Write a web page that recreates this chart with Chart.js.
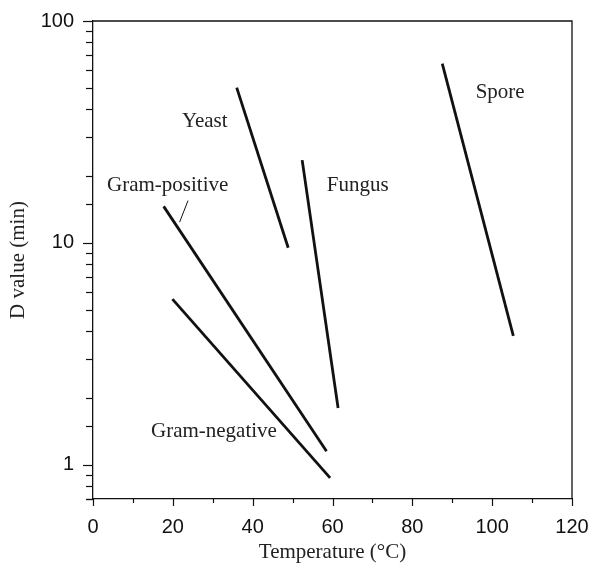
<!DOCTYPE html>
<html>
<head>
<meta charset="utf-8">
<script src="https://cdn.jsdelivr.net/npm/chart.js@4/dist/chart.umd.min.js"></script>
<style>
  html, body { margin: 0; padding: 0; background: #fff; }
  #wrap { width: 590px; height: 563px; position: relative; }
</style>
</head>
<body>
<div id="wrap"><canvas id="c"></canvas></div>
<script>
// ---- data ----
const seriesNames = ["Yeast", "Fungus", "Gram-positive", "Gram-negative", "Spore"];
const yeastT   = [36.0, 48.9];
const yeastD   = [50.1, 9.5];
const fungusT  = [52.4, 61.4];
const fungusD  = [23.6, 1.80];
const gposT    = [17.7, 58.5];
const gposD    = [14.6, 1.15];
const gnegT    = [19.9, 59.4];
const gnegD    = [5.57, 0.871];
const sporeT   = [87.5, 105.3];
const sporeD   = [64.3, 3.81];
// leader line from the "Gram-positive" label to its line
const leaderT  = [23.8, 21.7];
const leaderD  = [15.5, 12.4];
// label anchors, in data units (temperature, D value)
const labelText = ["Yeast", "Gram-positive", "Fungus", "Spore", "Gram-negative"];
const labelT    = [28.0, 18.7, 66.3, 102.0, 30.3];
const labelD    = [35.4, 18.2, 18.2, 47.7, 1.41];
// axis ticks
const yMajorTicks = [1, 10, 100];
const xMin = 0, xMax = 120, xStep = 10, xLabelStep = 20;
const yMin = 0.7, yMax = 100;

const pts = (xs, ys) => xs.map((x, i) => ({ x: x, y: ys[i] }));
const lineDs = (label, xs, ys, w) => ({
  label: label, data: pts(xs, ys), showLine: true, borderColor: '#111',
  backgroundColor: '#111', borderWidth: w, pointRadius: 0, fill: false,
  borderCapStyle: 'butt'
});

const SERIF = '"Liberation Serif", "Times New Roman", serif';
const SANS = '"Liberation Sans", Arial, sans-serif';

const decorPlugin = {
  id: 'decor',
  afterDraw(chart) {
    const ctx = chart.ctx;
    const a = chart.chartArea;
    const xs = chart.scales.x, ys = chart.scales.y;
    ctx.save();
    ctx.strokeStyle = '#111';
    ctx.lineWidth = 1.3;
    // top and right frame
    ctx.beginPath();
    ctx.moveTo(a.left, a.top); ctx.lineTo(a.right, a.top); ctx.lineTo(a.right, a.bottom);
    ctx.stroke();
    // y tick marks
    ctx.lineWidth = 1.2;
    ys.ticks.forEach(t => {
      const p = Math.round(ys.getPixelForValue(t.value)) + 0.5;
      const len = yMajorTicks.includes(t.value) ? 10 : 7;
      ctx.beginPath(); ctx.moveTo(a.left - len, p); ctx.lineTo(a.left, p); ctx.stroke();
    });
    // x tick marks
    xs.ticks.forEach(t => {
      const p = Math.round(xs.getPixelForValue(t.value)) + 0.5;
      const len = (t.value % xLabelStep === 0) ? 7 : 4;
      ctx.beginPath(); ctx.moveTo(p, a.bottom); ctx.lineTo(p, a.bottom + len); ctx.stroke();
    });
    // series labels
    ctx.fillStyle = '#222';
    ctx.font = '21px ' + SERIF;
    ctx.textAlign = 'center';
    ctx.textBaseline = 'middle';
    labelText.forEach((s, i) => {
      ctx.fillText(s, xs.getPixelForValue(labelT[i]), ys.getPixelForValue(labelD[i]));
    });
    ctx.restore();
  }
};

new Chart(document.getElementById('c'), {
  type: 'scatter',
  data: {
    datasets: [
      lineDs(seriesNames[0], yeastT, yeastD, 2.8),
      lineDs(seriesNames[1], fungusT, fungusD, 2.8),
      lineDs(seriesNames[2], gposT, gposD, 2.8),
      lineDs(seriesNames[3], gnegT, gnegD, 2.8),
      lineDs(seriesNames[4], sporeT, sporeD, 2.8),
      lineDs('leader', leaderT, leaderD, 1)
    ]
  },
  options: {
    responsive: true,
    maintainAspectRatio: false,
    animation: false,
    layout: { padding: { top: 21, right: 18, left: 0, bottom: 0 } },
    plugins: { legend: { display: false }, tooltip: { enabled: false } },
    scales: {
      x: {
        type: 'linear', min: xMin, max: xMax,
        grid: { display: false },
        border: { display: true, color: '#111', width: 1.3 },
        ticks: {
          stepSize: xStep, autoSkip: false, maxRotation: 0, padding: 8,
          color: '#111', font: { family: SANS, size: 20 },
          callback: v => (v % xLabelStep === 0 ? String(v) : '')
        },
        title: {
          display: true, text: 'Temperature (°C)', color: '#222',
          font: { family: SERIF, size: 21 }, padding: { top: 0, bottom: -2 }
        },
        afterFit: s => { s.height = 64; s.paddingLeft = 0; s.paddingRight = 0; }
      },
      y: {
        type: 'logarithmic', min: yMin, max: yMax,
        grid: { display: false },
        border: { display: true, color: '#111', width: 1.3 },
        ticks: {
          autoSkip: false, padding: 11, color: '#111',
          font: { family: SANS, size: 20 },
          callback: v => (yMajorTicks.includes(v) ? String(v) : '')
        },
        title: {
          display: true, text: 'D value (min)', color: '#222',
          font: { family: SERIF, size: 21 }, padding: { top: 6, bottom: 0 }
        },
        afterFit: s => { s.width = 93; s.paddingTop = 0; s.paddingBottom = 0; }
      }
    }
  },
  plugins: [decorPlugin]
});
</script>
</body>
</html>
